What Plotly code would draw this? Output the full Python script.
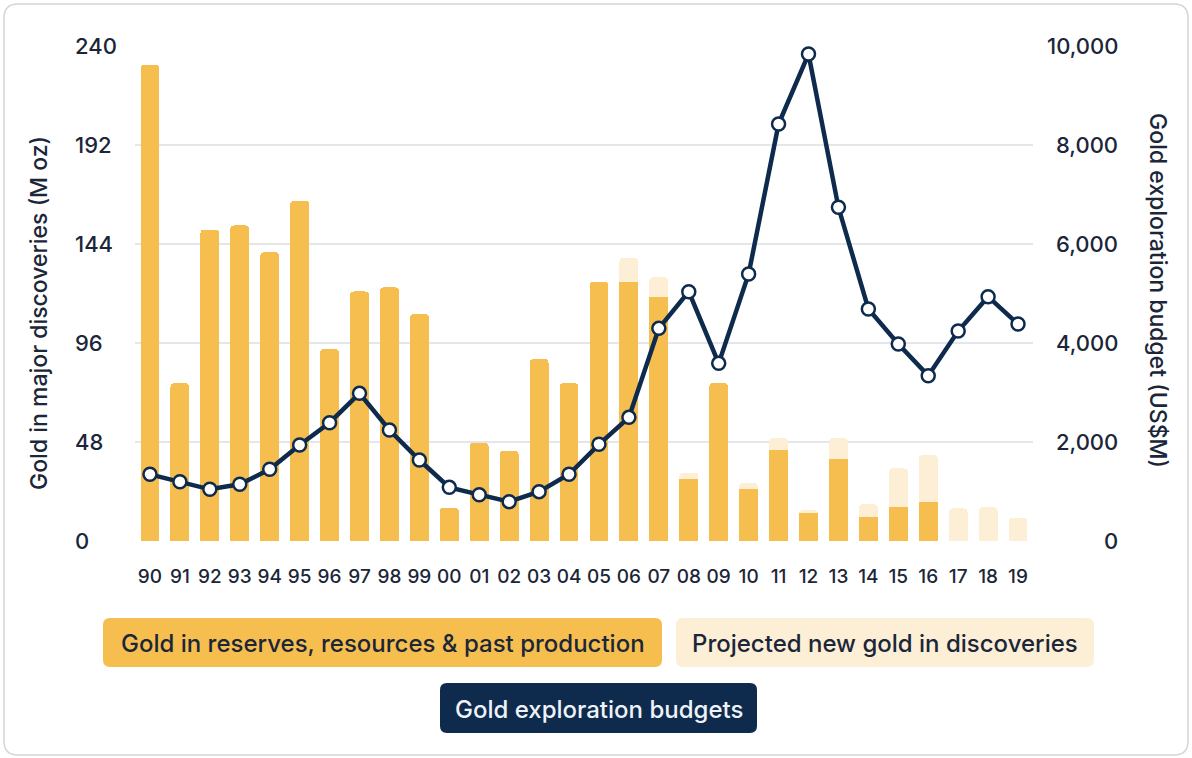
import plotly.graph_objects as go

years = ["90","91","92","93","94","95","96","97","98","99","00","01","02","03","04",
         "05","06","07","08","09","10","11","12","13","14","15","16","17","18","19"]
reserves = [231, 76.5, 151, 153, 140, 165, 93, 121, 123, 110, 16.2, 47.7, 43.8, 88.2, 76.5,
            125.6, 125.6, 118.4, 29.9, 76.5, 25, 44.1, 13.4, 39.6, 11.8, 16.6, 19, 0, 0, 0]
projected = [0, 0, 0, 0, 0, 0, 0, 0, 0, 0, 0, 0, 0, 0, 0,
             0, 11.6, 9.5, 3.2, 0, 3, 5.7, 1.6, 10.2, 6, 18.6, 22.7, 15.8, 16.3, 11.3]
budgets = [1347, 1198, 1044, 1145, 1448, 1939, 2390, 2983, 2242, 1636, 1084, 936, 795, 997, 1347,
           1953, 2498, 4296, 5037, 3589, 5394, 8424, 9838, 6741, 4687, 3980, 3340, 4242, 4936, 4384]
left_ticks = [0, 48, 96, 144, 192, 240]
right_ticks = [0, 2000, 4000, 6000, 8000, 10000]
right_tick_text = ["0", "2,000", "4,000", "6,000", "8,000", "10,000"]
legend_labels = ["Gold in reserves, resources & past production",
                 "Projected new gold in discoveries",
                 "Gold exploration budgets"]

ORANGE = "#F6BE4F"
LIGHT = "#FCEFD6"
NAVY = "#0E2A4C"
TEXT = "#1B2638"
FONT = "Inter"
WEIGHT = 500

W, H = 1192, 758
L, R, T, B = 135, 159, 46, 217
PW, PH = W - L - R, H - T - B

def px2x(px):
    return (px - L) / PW

def py2y(py):
    return (H - B - py) / PH

fig = go.Figure()
fig.add_trace(go.Bar(x=years, y=reserves, marker=dict(color=ORANGE, line=dict(width=0)),
                     width=0.63, name=legend_labels[0]))
fig.add_trace(go.Bar(x=years, y=projected, marker=dict(color=LIGHT, line=dict(width=0)),
                     width=0.63, name=legend_labels[1]))
fig.add_trace(go.Scatter(x=years, y=budgets, yaxis="y2", mode="lines+markers",
                         line=dict(color=NAVY, width=4.5),
                         marker=dict(size=13, color="white", line=dict(color=NAVY, width=2.5)),
                         name=legend_labels[2]))

shapes = []
annotations = []

def rrect(x0, y0, x1, y1, r, fill, line_color=None, line_width=0, layer="below"):
    X0, X1 = px2x(x0), px2x(x1)
    Y0, Y1 = py2y(y1), py2y(y0)
    rx, ry = r / PW, r / PH
    p = (f"M {X0+rx},{Y1} L {X1-rx},{Y1} Q {X1},{Y1} {X1},{Y1-ry} "
         f"L {X1},{Y0+ry} Q {X1},{Y0} {X1-rx},{Y0} L {X0+rx},{Y0} "
         f"Q {X0},{Y0} {X0},{Y0+ry} L {X0},{Y1-ry} Q {X0},{Y1} {X0+rx},{Y1} Z")
    return dict(type="path", xref="paper", yref="paper", path=p, fillcolor=fill, layer=layer,
                line=dict(width=line_width, color=line_color or fill))

# card border
shapes.append(rrect(4, 4, 1188, 755, 14, "rgba(0,0,0,0)", "#D4D4D4", 1.5, layer="below"))

# legend boxes
boxes = [(103, 618, 662, 667, ORANGE, TEXT),
         (676, 618, 1094, 667, LIGHT, TEXT),
         (440, 683, 757, 733, NAVY, "#EEF3FA")]
for (x0, y0, x1, y1, fill, tc), lab in zip(boxes, legend_labels):
    shapes.append(rrect(x0, y0, x1, y1, 7, fill))
    annotations.append(dict(text=lab, xref="paper", yref="paper",
                            x=px2x((x0 + x1) / 2), y=py2y((y0 + y1) / 2 + 1),
                            xanchor="center", yanchor="middle", showarrow=False,
                            font=dict(family=FONT, size=24, color=tc, weight=WEIGHT)))

# left tick labels (left aligned)
for v in left_ticks:
    annotations.append(dict(text=str(v), xref="paper", yref="y", x=px2x(73), y=v,
                            xanchor="left", yanchor="middle", showarrow=False,
                            font=dict(family=FONT, size=22, color=TEXT, weight=WEIGHT)))
# right tick labels (right aligned)
for v, t in zip(right_ticks, right_tick_text):
    annotations.append(dict(text=t, xref="paper", yref="y2", x=px2x(1120), y=v,
                            xanchor="right", yanchor="middle", showarrow=False,
                            font=dict(family=FONT, size=22, color=TEXT, weight=WEIGHT)))
# axis titles
annotations.append(dict(text="Gold in major discoveries (M oz)", xref="paper", yref="paper",
                        x=px2x(39), y=py2y(313), textangle=-90, showarrow=False,
                        xanchor="center", yanchor="middle",
                        font=dict(family=FONT, size=23, color=TEXT, weight=WEIGHT)))
annotations.append(dict(text="Gold exploration budget (US$M)", xref="paper", yref="paper",
                        x=px2x(1158), y=py2y(290), textangle=90, showarrow=False,
                        xanchor="center", yanchor="middle",
                        font=dict(family=FONT, size=23, color=TEXT, weight=WEIGHT)))

fig.update_layout(
    width=W, height=H,
    margin=dict(l=L, r=R, t=T, b=B),
    paper_bgcolor="white", plot_bgcolor="white",
    barmode="stack", barcornerradius=4,
    showlegend=False,
    font=dict(family=FONT, color=TEXT),
    xaxis=dict(type="category", range=[-0.5, 29.5], showgrid=False, showline=False,
               ticks="", tickfont=dict(family=FONT, size=19, color=TEXT, weight=WEIGHT),
               ticklabelstandoff=22),
    yaxis=dict(range=[0, 240], tickvals=left_ticks, showticklabels=False,
               gridcolor="#E4E6EA", gridwidth=1.5, zeroline=False, showline=False),
    yaxis2=dict(range=[0, 10000], tickvals=right_ticks, showticklabels=False, overlaying="y",
                side="right", showgrid=False, zeroline=False, showline=False),
    shapes=shapes,
    annotations=annotations,
)

fig.write_html("out.html")
